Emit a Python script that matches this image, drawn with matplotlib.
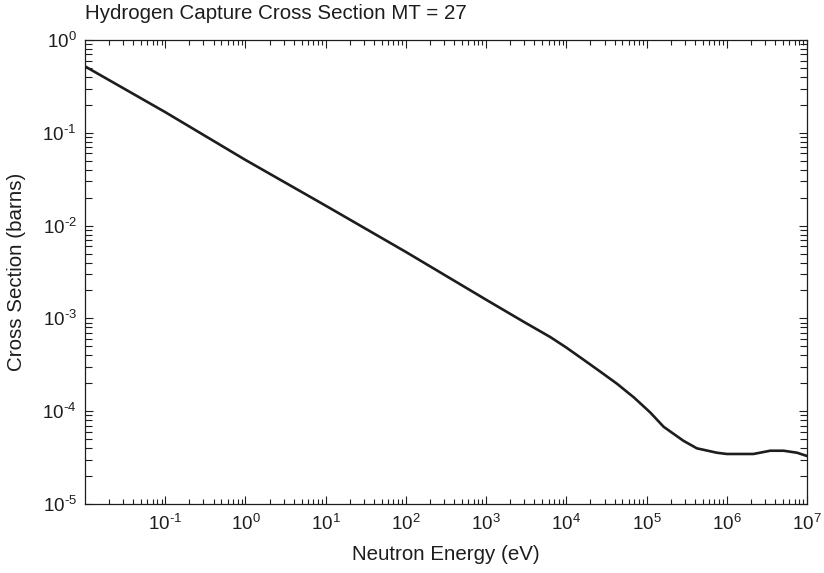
import numpy as np
import matplotlib
matplotlib.use('Agg')
import matplotlib.pyplot as plt
from matplotlib.ticker import LogLocator, NullFormatter, FuncFormatter

plt.rcParams['font.family'] = ['Liberation Sans', 'DejaVu Sans']
plt.rcParams['mathtext.fontset'] = 'custom'
plt.rcParams['mathtext.rm'] = 'Liberation Sans'
plt.rcParams['mathtext.it'] = 'Liberation Sans'
plt.rcParams['axes.unicode_minus'] = False

# values
energy_ev = [1e-2, 1e-1, 1e0, 1e1, 1e2, 1e3, 3e3, 6.3e3, 1e4, 1.63e4, 2.6e4, 4.27e4, 7e4, 1.11e5,
             1.63e5, 2.88e5, 4.24e5, 7.5e5, 1e6, 2.15e6, 3.48e6, 5.1e6, 7.5e6, 1e7]
sigma_b = [0.52, 0.167, 0.051, 0.0164, 5.2e-3, 1.59e-3, 9.1e-4, 6.3e-4, 4.85e-4, 3.6e-4, 2.7e-4,
           1.98e-4, 1.4e-4, 9.7e-5, 6.8e-5, 4.8e-5, 3.98e-5, 3.57e-5, 3.46e-5, 3.46e-5, 3.75e-5,
           3.75e-5, 3.57e-5, 3.29e-5]

xtick_vals = [1e-1, 1e0, 1e1, 1e2, 1e3, 1e4, 1e5, 1e6, 1e7]
ytick_vals = [1e-5, 1e-4, 1e-3, 1e-2, 1e-1, 1e0]

ink = '#1e1c1d'


def pow_label(v, pos):
    n = int(round(np.log10(v)))
    if n < 0:
        return r'$10^{\text{-}%d}$' % (-n)
    return r'$10^{%d}$' % n


fig = plt.figure(figsize=(8.24, 5.73), dpi=100)
ax = fig.add_axes([85/824, 1-504/573, (807-85)/824, (504-40)/573])

ax.loglog(energy_ev, sigma_b, color=ink, lw=1.9, solid_joinstyle='round')

ax.set_xlim(1e-2, 1e7)
ax.set_ylim(1e-5, 1e0)
ax.set_xticks(xtick_vals)
ax.set_yticks(ytick_vals)
ax.xaxis.set_major_formatter(FuncFormatter(pow_label))
ax.yaxis.set_major_formatter(FuncFormatter(pow_label))
ax.xaxis.set_minor_locator(LogLocator(base=10, subs=np.arange(2, 10), numticks=20))
ax.yaxis.set_minor_locator(LogLocator(base=10, subs=np.arange(2, 10), numticks=20))
ax.xaxis.set_minor_formatter(NullFormatter())
ax.yaxis.set_minor_formatter(NullFormatter())

ax.tick_params(which='both', direction='in', top=True, right=True, colors=ink,
               labelsize=13.5, width=0.8)
ax.tick_params(axis='x', which='major', length=6, pad=7)
ax.tick_params(axis='x', which='minor', length=3.5)
ax.tick_params(axis='y', which='major', length=6, pad=6)
ax.tick_params(axis='y', which='minor', length=5)
for s in ax.spines.values():
    s.set_linewidth(0.9)
    s.set_color(ink)

ax.set_xlabel('Neutron Energy (eV)', fontsize=14.8, color=ink, labelpad=8)
ax.set_ylabel('Cross Section (barns)', fontsize=14.8, color=ink, labelpad=12)
ax.set_title('Hydrogen Capture Cross Section MT = 27', fontsize=14.8, color=ink,
             loc='left', pad=15)

fig.savefig('out.png', dpi=100)
